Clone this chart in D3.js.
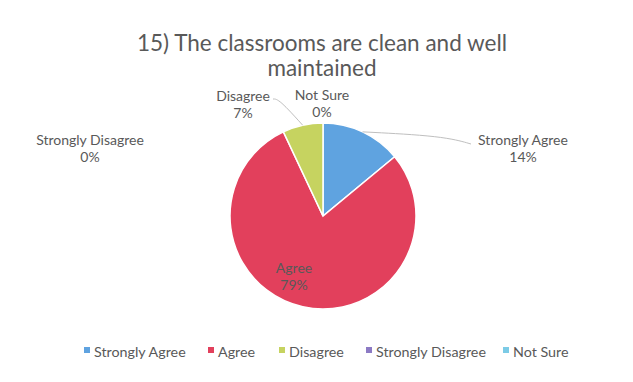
<!DOCTYPE html>
<html lang="en">
<head>
<meta charset="UTF-8">
<title>15) The classrooms are clean and well maintained</title>
<script src="https://d3js.org/d3.v7.min.js"></script>
<style>
    body { margin: 0; padding: 0; background: #fff; overflow: hidden; }
    text { font-family: Lato, "Open Sans", sans-serif; fill: #595959; }
</style>
</head>
<body>
<script>
    // data
    const categories = ["Strongly Agree", "Agree", "Disagree", "Strongly Disagree", "Not Sure"];
    const values = [14, 79, 7, 0, 0];
    const colors = ["#5fa3e0", "#e2405c", "#c6d360", "#8c7ac4", "#7ccbe6"];
    const titleLines = ["15) The classrooms are clean and well", "maintained"];

    const width = 633, height = 382;
    const cx = 323, cy = 216, radius = 93;

    const svg = d3.select("body").append("svg")
        .attr("width", width)
        .attr("height", height);

    // title
    svg.append("text")
        .attr("x", 322).attr("y", 51)
        .attr("text-anchor", "middle")
        .style("font-size", "22.5px")
        .selectAll("tspan")
        .data(titleLines)
        .enter().append("tspan")
        .attr("x", 322)
        .attr("dy", (d, i) => i ? 25 : 0)
        .text(d => d);

    const color = d3.scaleOrdinal(categories, colors);

    const pie = d3.pie().sort(null).value(d => d.value);
    const arcs = pie(categories.map((c, i) => ({ name: c, value: values[i] })));
    const arc = d3.arc().innerRadius(0).outerRadius(radius);

    const g = svg.append("g").attr("transform", `translate(${cx},${cy})`);

    g.selectAll("path")
        .data(arcs.filter(d => d.value > 0))
        .enter().append("path")
        .attr("d", arc)
        .attr("fill", d => color(d.data.name))
        .attr("stroke", "#fff")
        .attr("stroke-width", 1.5);

    // label placement (Excel-style, relative to pie centre)
    const labelPos = {
        "Strongly Agree": [200, -71],
        "Agree": [-29, 57],
        "Disagree": [-80, -115],
        "Strongly Disagree": [-233, -71],
        "Not Sure": [-1, -116]
    };

    const labels = g.selectAll(".lbl")
        .data(arcs)
        .enter().append("text")
        .attr("class", "lbl")
        .attr("text-anchor", "middle")
        .style("font-size", "14px");

    labels.append("tspan")
        .attr("x", d => labelPos[d.data.name][0])
        .attr("y", d => labelPos[d.data.name][1])
        .text(d => d.data.name);
    labels.append("tspan")
        .attr("x", d => labelPos[d.data.name][0])
        .attr("y", d => labelPos[d.data.name][1] + 17)
        .text(d => Math.round(d.value) + "%");

    // leader lines
    function leader(name, pts) {
        const a = arcs.find(d => d.data.name === name);
        const mid = (a.startAngle + a.endAngle) / 2;
        const p0 = [Math.sin(mid) * radius, -Math.cos(mid) * radius];
        g.append("path")
            .attr("d", d3.line().curve(d3.curveBasis)([p0].concat(pts)))
            .attr("fill", "none")
            .attr("stroke", "#bfbfbf")
            .attr("stroke-width", 1);
    }
    leader("Strongly Agree", [[120, -80], [148, -72]]);
    leader("Disagree", [[-44, -117], [-50, -117]]);

    // legend
    const legendX = [84, 208, 279, 366, 503];
    const legend = svg.append("g");
    const items = legend.selectAll("g")
        .data(categories)
        .enter().append("g")
        .attr("transform", (d, i) => `translate(${legendX[i]},352)`);
    items.append("rect")
        .attr("x", 0).attr("y", -5)
        .attr("width", 6).attr("height", 6)
        .attr("fill", d => color(d));
    items.append("text")
        .attr("x", 10).attr("y", 4.5)
        .style("font-size", "14.3px")
        .text(d => d);
</script>
</body>
</html>
